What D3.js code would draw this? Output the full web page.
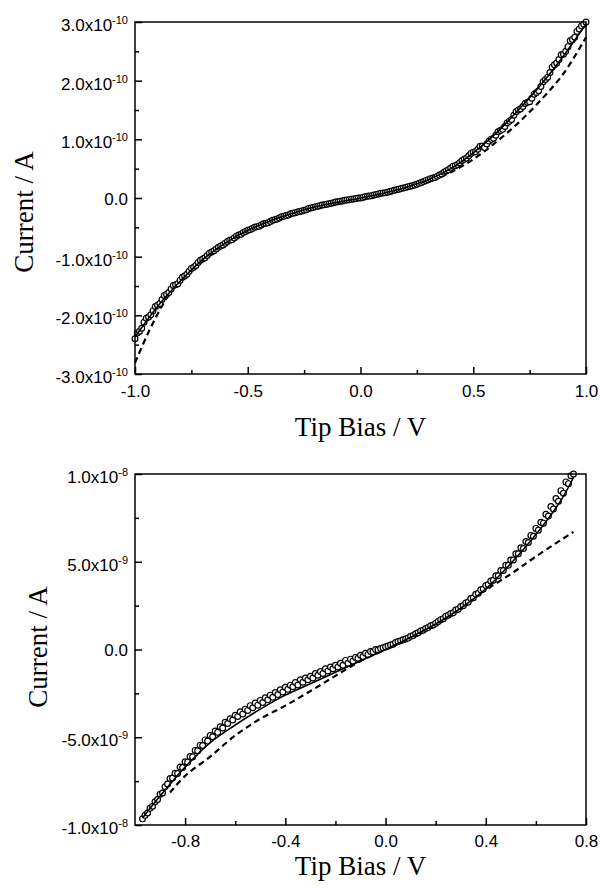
<!DOCTYPE html>
<html><head><meta charset="utf-8">
<script src="https://cdn.jsdelivr.net/npm/d3@7"></script>
<style>body{margin:0;background:#fff}</style>
</head><body>
<svg id="c" width="600" height="888"></svg>
<script>
// ---------- DATA (top panel: current in units of 1e-10 A; bottom: 1e-8 A) ----------
const topSweepA = [[-1.00,-2.40],[-0.98,-2.27],[-0.96,-2.12],[-0.94,-2.03],[-0.92,-1.92],[-0.90,-1.83],[-0.88,-1.73],[-0.86,-1.64],[-0.84,-1.55],[-0.82,-1.48],[-0.80,-1.40],[-0.78,-1.33],[-0.76,-1.25],[-0.74,-1.18],[-0.72,-1.10],[-0.70,-1.04],[-0.68,-0.98],[-0.66,-0.92],[-0.64,-0.87],[-0.62,-0.82],[-0.60,-0.77],[-0.58,-0.72],[-0.56,-0.68],[-0.54,-0.63],[-0.52,-0.59],[-0.50,-0.55],[-0.48,-0.52],[-0.46,-0.49],[-0.44,-0.46],[-0.42,-0.43],[-0.40,-0.40],[-0.38,-0.37],[-0.36,-0.34],[-0.34,-0.31],[-0.32,-0.29],[-0.30,-0.26],[-0.28,-0.24],[-0.26,-0.22],[-0.24,-0.20],[-0.22,-0.17],[-0.20,-0.15],[-0.18,-0.13],[-0.16,-0.115],[-0.14,-0.10],[-0.12,-0.08],[-0.10,-0.065],[-0.08,-0.05],[-0.06,-0.035],[-0.04,-0.02],[-0.02,-0.01],[0.00,0.00],[0.02,0.02],[0.04,0.035],[0.06,0.05],[0.08,0.07],[0.10,0.085],[0.12,0.10],[0.14,0.12],[0.16,0.14],[0.18,0.16],[0.20,0.18],[0.22,0.20],[0.24,0.22],[0.26,0.25],[0.28,0.28],[0.30,0.31],[0.32,0.34],[0.34,0.37],[0.36,0.41],[0.38,0.46],[0.40,0.51],[0.42,0.55],[0.44,0.60],[0.46,0.66],[0.48,0.72],[0.50,0.78],[0.52,0.83],[0.54,0.88],[0.56,0.92],[0.58,1.00],[0.60,1.07],[0.62,1.15],[0.64,1.22],[0.66,1.31],[0.68,1.41],[0.70,1.50],[0.72,1.56],[0.74,1.63],[0.76,1.70],[0.78,1.80],[0.80,1.90],[0.82,2.02],[0.84,2.14],[0.86,2.27],[0.88,2.36],[0.90,2.45],[0.92,2.58],[0.94,2.70],[0.96,2.84],[0.98,2.93],[1.00,3.00]];
const topSweepB = [[-0.99,-2.30],[-0.97,-2.22],[-0.95,-2.05],[-0.93,-1.99],[-0.91,-1.85],[-0.89,-1.80],[-0.87,-1.66],[-0.85,-1.61],[-0.83,-1.49],[-0.81,-1.46],[-0.79,-1.35],[-0.77,-1.30],[-0.75,-1.20],[-0.73,-1.15],[-0.71,-1.06],[-0.69,-1.02],[-0.67,-0.94],[-0.65,-0.90],[-0.63,-0.84],[-0.61,-0.80],[-0.59,-0.74],[-0.57,-0.71],[-0.55,-0.65],[-0.53,-0.62],[-0.51,-0.57],[-0.49,-0.54],[-0.47,-0.50],[-0.45,-0.48],[-0.43,-0.44],[-0.41,-0.42],[-0.39,-0.38],[-0.37,-0.36],[-0.35,-0.32],[-0.33,-0.30],[-0.31,-0.27],[-0.29,-0.25],[-0.27,-0.23],[-0.25,-0.21],[-0.23,-0.18],[-0.21,-0.16],[-0.19,-0.14],[-0.17,-0.12],[-0.15,-0.105],[-0.13,-0.09],[-0.11,-0.07],[-0.09,-0.055],[-0.07,-0.04],[-0.05,-0.03],[-0.03,-0.015],[-0.01,0.00],[0.01,0.01],[0.03,0.03],[0.05,0.04],[0.07,0.06],[0.09,0.08],[0.11,0.09],[0.13,0.11],[0.15,0.13],[0.17,0.15],[0.19,0.17],[0.21,0.19],[0.23,0.21],[0.25,0.235],[0.27,0.265],[0.29,0.30],[0.31,0.33],[0.33,0.35],[0.35,0.39],[0.37,0.44],[0.39,0.48],[0.41,0.54],[0.43,0.57],[0.45,0.64],[0.47,0.68],[0.49,0.76],[0.51,0.79],[0.53,0.88],[0.55,0.86],[0.57,0.97],[0.59,1.02],[0.61,1.13],[0.63,1.17],[0.65,1.28],[0.67,1.34],[0.69,1.47],[0.71,1.52],[0.73,1.61],[0.75,1.64],[0.77,1.77],[0.79,1.83],[0.81,1.98],[0.83,2.06],[0.85,2.23],[0.87,2.30],[0.89,2.44],[0.91,2.50],[0.93,2.68],[0.95,2.74],[0.97,2.88],[0.99,2.96]];
const topSolidFit = [[-1.0,-2.37],[-0.9,-1.85],[-0.8,-1.42],[-0.7,-1.05],[-0.6,-0.77],[-0.5,-0.55],[-0.4,-0.39],[-0.3,-0.26],[-0.2,-0.15],[-0.1,-0.07],[0.0,0.0],[0.1,0.08],[0.2,0.18],[0.3,0.31],[0.4,0.50],[0.5,0.77],[0.6,1.10],[0.7,1.50],[0.8,1.93],[0.9,2.42],[1.0,2.97]];
const topDashedFit = [[-1.0,-2.81],[-0.95,-2.37],[-0.9,-1.98],[-0.85,-1.65],[-0.8,-1.40],[-0.7,-1.03],[-0.6,-0.76],[-0.5,-0.55],[-0.4,-0.39],[-0.3,-0.26],[-0.2,-0.15],[-0.1,-0.07],[0.0,0.0],[0.1,0.07],[0.2,0.16],[0.3,0.28],[0.4,0.44],[0.5,0.66],[0.6,0.95],[0.7,1.28],[0.8,1.67],[0.9,2.12],[1.0,2.74]];

const botSweepA = [[-0.97,-0.965],[-0.95,-0.932],[-0.93,-0.893],[-0.91,-0.855],[-0.89,-0.818],[-0.87,-0.767],[-0.85,-0.732],[-0.83,-0.707],[-0.81,-0.672],[-0.79,-0.642],[-0.77,-0.612],[-0.75,-0.577],[-0.73,-0.547],[-0.71,-0.522],[-0.69,-0.497],[-0.67,-0.472],[-0.65,-0.447],[-0.63,-0.422],[-0.61,-0.402],[-0.59,-0.382],[-0.57,-0.367],[-0.55,-0.347],[-0.53,-0.332],[-0.51,-0.317],[-0.49,-0.302],[-0.47,-0.287],[-0.45,-0.272],[-0.43,-0.257],[-0.41,-0.242],[-0.39,-0.227],[-0.37,-0.212],[-0.35,-0.202],[-0.33,-0.187],[-0.31,-0.172],[-0.29,-0.162],[-0.27,-0.147],[-0.25,-0.137],[-0.23,-0.122],[-0.21,-0.11],[-0.19,-0.10],[-0.17,-0.09],[-0.15,-0.078],[-0.13,-0.066],[-0.11,-0.05],[-0.09,-0.04],[-0.07,-0.028],[-0.05,-0.013],[-0.03,-0.002],[-0.01,0.01],[0.01,0.02],[0.03,0.03],[0.05,0.045],[0.07,0.055],[0.09,0.065],[0.11,0.08],[0.13,0.095],[0.15,0.11],[0.17,0.125],[0.19,0.14],[0.21,0.16],[0.23,0.175],[0.25,0.195],[0.27,0.21],[0.29,0.23],[0.31,0.25],[0.33,0.27],[0.35,0.295],[0.37,0.32],[0.39,0.345],[0.41,0.37],[0.43,0.395],[0.45,0.42],[0.47,0.45],[0.49,0.48],[0.51,0.51],[0.53,0.545],[0.55,0.575],[0.57,0.61],[0.59,0.645],[0.61,0.68],[0.63,0.72],[0.65,0.76],[0.67,0.80],[0.69,0.845],[0.71,0.89],[0.73,0.945],[0.75,1.00]];
const botSweepB = [[-0.96,-0.945],[-0.94,-0.905],[-0.92,-0.868],[-0.90,-0.825],[-0.88,-0.782],[-0.86,-0.735],[-0.84,-0.705],[-0.82,-0.67],[-0.80,-0.64],[-0.78,-0.61],[-0.76,-0.575],[-0.74,-0.545],[-0.72,-0.515],[-0.70,-0.49],[-0.68,-0.465],[-0.66,-0.44],[-0.64,-0.415],[-0.62,-0.395],[-0.60,-0.375],[-0.58,-0.355],[-0.56,-0.34],[-0.54,-0.32],[-0.52,-0.305],[-0.50,-0.29],[-0.48,-0.275],[-0.46,-0.26],[-0.44,-0.245],[-0.42,-0.23],[-0.40,-0.215],[-0.38,-0.203],[-0.36,-0.188],[-0.34,-0.173],[-0.32,-0.162],[-0.30,-0.152],[-0.28,-0.137],[-0.26,-0.125],[-0.24,-0.11],[-0.22,-0.10],[-0.20,-0.09],[-0.18,-0.078],[-0.16,-0.062],[-0.14,-0.055],[-0.12,-0.045],[-0.10,-0.033],[-0.08,-0.022],[-0.06,-0.012],[-0.04,0.00],[-0.02,0.005],[0.00,0.015],[0.02,0.025],[0.04,0.04],[0.06,0.05],[0.08,0.06],[0.10,0.075],[0.12,0.09],[0.14,0.105],[0.16,0.12],[0.18,0.135],[0.20,0.15],[0.22,0.17],[0.24,0.19],[0.26,0.205],[0.28,0.225],[0.30,0.245],[0.32,0.265],[0.34,0.29],[0.36,0.315],[0.38,0.34],[0.40,0.365],[0.42,0.39],[0.44,0.42],[0.46,0.45],[0.48,0.48],[0.50,0.51],[0.52,0.545],[0.54,0.58],[0.56,0.615],[0.58,0.65],[0.60,0.69],[0.62,0.725],[0.64,0.77],[0.66,0.815],[0.68,0.86],[0.70,0.905],[0.72,0.955],[0.74,0.99]];
const botSolidFit = [[-0.97,-0.96],[-0.9,-0.835],[-0.8,-0.67],[-0.7,-0.53],[-0.6,-0.43],[-0.5,-0.34],[-0.4,-0.26],[-0.3,-0.195],[-0.2,-0.13],[-0.1,-0.065],[0.0,0.0],[0.1,0.07],[0.2,0.145],[0.3,0.235],[0.4,0.345],[0.5,0.49],[0.6,0.655],[0.7,0.85],[0.75,0.98]];
const botDashedFit = [[-0.86,-0.815],[-0.8,-0.72],[-0.7,-0.61],[-0.6,-0.49],[-0.5,-0.395],[-0.4,-0.32],[-0.3,-0.237],[-0.2,-0.15],[-0.1,-0.066],[0.0,0.0],[0.1,0.07],[0.2,0.15],[0.3,0.245],[0.4,0.34],[0.5,0.43],[0.6,0.53],[0.75,0.67]];

const topXMajor = [-1.0,-0.5,0.0,0.5,1.0];
const topXMinor = [-0.75,-0.25,0.25,0.75];
const topXLabels = ["-1.0","-0.5","0.0","0.5","1.0"];
const topYMajor = [3,2,1,0,-1,-2,-3];
const topYMinor = [2.5,1.5,0.5,-0.5,-1.5,-2.5];
const topYLabels = ["3.0x10^-10","2.0x10^-10","1.0x10^-10","0.0","-1.0x10^-10","-2.0x10^-10","-3.0x10^-10"];

const botXMajor = [-0.8,-0.4,0.0,0.4,0.8];
const botXMinor = [-0.6,-0.2,0.2,0.6];
const botXLabels = ["-0.8","-0.4","0.0","0.4","0.8"];
const botYMajor = [1,0.5,0,-0.5,-1];
const botYMinor = [0.75,0.25,-0.25,-0.75];
const botYLabels = ["1.0x10^-8","5.0x10^-9","0.0","-5.0x10^-9","-1.0x10^-8"];

const xTitle = "Tip Bias / V";
const yTitle = "Current / A";

// ---------- DRAW ----------
const svg = d3.select("#c");
const sans = "'Liberation Sans', Arial, sans-serif";
const serif = "'Liberation Serif', 'Times New Roman', serif";

function panel(o){
  const x = d3.scaleLinear().domain(o.xDomain).range([o.left, o.right]);
  const y = d3.scaleLinear().domain(o.yDomain).range([o.bottom, o.top]);
  const g = svg.append("g");

  const line = d3.line().x(d=>x(d[0])).y(d=>y(d[1])).curve(d3.curveCatmullRom.alpha(0.5));

  g.append("path").datum(o.dashed).attr("d", line).attr("fill","none")
    .attr("stroke","#000").attr("stroke-width",2.2).attr("stroke-dasharray","6,4");

  // circles
  const pts = o.sweepA.concat(o.sweepB).sort((a,b)=>a[0]-b[0]);
  g.append("g").selectAll("circle").data(pts).join("circle")
    .attr("cx", d=>x(d[0])).attr("cy", d=>y(d[1])).attr("r", 2.9)
    .attr("fill","#fff").attr("stroke","#000").attr("stroke-width",1.2);

  g.append("path").datum(o.solid).attr("d", line).attr("fill","none")
    .attr("stroke","#000").attr("stroke-width",1.6);

  // frame
  g.append("rect").attr("x",o.left).attr("y",o.top)
    .attr("width",o.right-o.left).attr("height",o.bottom-o.top)
    .attr("fill","none").attr("stroke","#000").attr("stroke-width",1.5);

  // x axis major
  const xa = g.append("g").attr("transform",`translate(0,${o.bottom})`)
    .call(d3.axisBottom(x).tickValues(o.xMajor).tickSize(-7).tickPadding(0)
      .tickFormat((d,i)=>o.xLabels[i]));
  xa.select(".domain").remove();
  xa.selectAll("line").attr("stroke-width",1.5);
  xa.selectAll("text").attr("dy",null).attr("y",o.xLabelDy)
    .style("font-family",sans).style("font-size","17px").attr("fill","#000");
  const xm = g.append("g").attr("transform",`translate(0,${o.bottom})`)
    .call(d3.axisBottom(x).tickValues(o.xMinor).tickSize(-4).tickFormat(""));
  xm.select(".domain").remove();
  xm.selectAll("line").attr("stroke-width",1.5);

  // y axis major
  const ya = g.append("g").attr("transform",`translate(${o.left},0)`)
    .call(d3.axisLeft(y).tickValues(o.yMajor).tickSize(-7).tickPadding(7).tickFormat(""));
  ya.select(".domain").remove();
  ya.selectAll("line").attr("stroke-width",1.5);
  ya.selectAll("text").each(function(d,i){
    const t = d3.select(this);
    const lab = o.yLabels[i];
    t.attr("dy",null).style("font-family",sans).attr("fill","#000");
    if(lab.indexOf("^")>=0){
      const parts = lab.split("^");
      t.attr("y",8.5);
      t.append("tspan").style("font-size","17px").text(parts[0]);
      t.append("tspan").style("font-size","11px").attr("dy",-7).text(parts[1]);
    } else {
      t.attr("y",6).style("font-size","17px").text(lab);
    }
  });
  const ym = g.append("g").attr("transform",`translate(${o.left},0)`)
    .call(d3.axisLeft(y).tickValues(o.yMinor).tickSize(-4).tickFormat(""));
  ym.select(".domain").remove();
  ym.selectAll("line").attr("stroke-width",1.5);

  // titles
  g.append("text").attr("x",(o.left+o.right)/2).attr("y",o.xTitleY)
    .attr("text-anchor","middle").style("font-family",serif).style("font-size","27px")
    .text(xTitle);
  g.append("text").attr("transform",`translate(${o.yTitleX},${o.yTitleY}) rotate(-90)`)
    .attr("text-anchor","middle").style("font-family",serif).style("font-size","27px")
    .text(yTitle);
}

panel({left:135,right:586,top:22,bottom:374,xDomain:[-1,1],yDomain:[-3,3],
  sweepA:topSweepA,sweepB:topSweepB,solid:topSolidFit,dashed:topDashedFit,
  xMajor:topXMajor,xMinor:topXMinor,xLabels:topXLabels,
  yMajor:topYMajor,yMinor:topYMinor,yLabels:topYLabels,
  xLabelDy:23,xTitleY:436,yTitleX:33,yTitleY:212});

panel({left:135,right:586,top:474,bottom:825,xDomain:[-1,0.8],yDomain:[-1,1],
  sweepA:botSweepA,sweepB:botSweepB,solid:botSolidFit,dashed:botDashedFit,
  xMajor:botXMajor,xMinor:botXMinor,xLabels:botXLabels,
  yMajor:botYMajor,yMinor:botYMinor,yLabels:botYLabels,
  xLabelDy:22,xTitleY:875,yTitleX:47,yTitleY:647});
</script></body></html>
